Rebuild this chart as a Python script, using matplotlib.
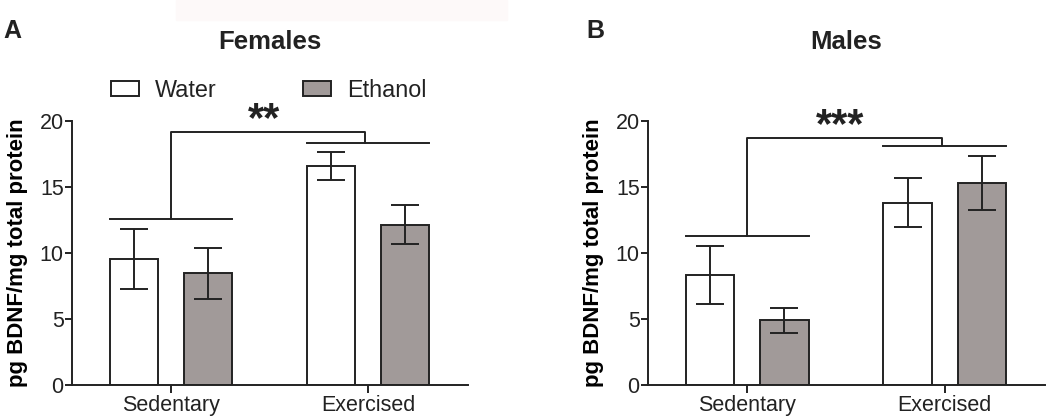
import matplotlib
matplotlib.use("Agg")
import matplotlib.pyplot as plt
from matplotlib.patches import Patch, Rectangle
import numpy as np

plt.rcParams["font.family"] = ["Liberation Sans", "DejaVu Sans"]

groups = ["Sedentary", "Exercised"]
series = ["Water", "Ethanol"]
colors = ["white", "#a19a99"]

fem_mean = {"Water": [9.55, 16.6], "Ethanol": [8.45, 12.15]}
fem_sem = {"Water": [2.25, 1.05], "Ethanol": [1.9, 1.45]}
male_mean = {"Water": [8.3, 13.8], "Ethanol": [4.9, 15.3]}
male_sem = {"Water": [2.2, 1.85], "Ethanol": [0.95, 2.05]}

# significance brackets: (stars, sedentary line, exercised line, top line)
fem_sig = ("**", 12.6, 18.3, 19.15)
male_sig = ("***", 11.3, 18.1, 18.7)

fig = plt.figure(figsize=(10.5, 4.2), dpi=100)
fig.patches.append(Rectangle((176/1050, 1 - 20/420), 331/1050, 20/420,
                             transform=fig.transFigure, color="#fdf9f9", zorder=0))

lw = 1.4
w, off = 0.245, 0.188


def panel(rect, title, letter, means, sems, sig, legend):
    ax = fig.add_axes(rect)
    x = np.arange(len(groups))
    for i, s in enumerate(series):
        ax.bar(x + (2*i - 1)*off, means[s], w, color=colors[i], edgecolor="#222222",
               linewidth=lw, zorder=2)
        ax.errorbar(x + (2*i - 1)*off, means[s], yerr=sems[s], fmt="none",
                    ecolor="#222222", elinewidth=lw, capsize=10.4, capthick=lw, zorder=3)
    ax.set_xlim(-0.503, 1.508)
    ax.set_ylim(0, 20)
    ax.set_yticks([0, 5, 10, 15, 20])
    ax.set_xticks(x)
    ax.set_xticklabels(groups)
    ax.tick_params(axis="both", labelsize=15.5, width=lw, length=5, color="#222222",
                   labelcolor="#222222")
    ax.tick_params(axis="x", length=6, pad=1)
    ax.tick_params(axis="y", pad=1)
    for sp in ["top", "right"]:
        ax.spines[sp].set_visible(False)
    for sp in ["left", "bottom"]:
        ax.spines[sp].set_linewidth(lw)
        ax.spines[sp].set_color("#222222")
    ax.set_ylabel("pg BDNF/mg total protein", fontsize=16, fontweight="bold", labelpad=8)

    stars, ysed, yex, ytop = sig
    kw = dict(color="#222222", lw=lw, clip_on=False, zorder=4)
    ax.plot([-off - w/2, off + w/2], [ysed, ysed], **kw)
    ax.plot([1 - off - w/2, 1 + off + w/2], [yex, yex], **kw)
    ax.plot([0, 0, 0.985, 0.985], [ysed, ytop, ytop, yex], **kw)
    ax.text(0.47, ytop + 0.05, stars, ha="center", va="baseline", fontsize=30,
            fontweight="bold", color="#222222", clip_on=False)

    ax.text(0.5, 1.0 + 79/264, title, transform=ax.transAxes, ha="center", va="center",
            fontsize=18.5, fontweight="bold", color="#222222")
    ax.text(letter[1], 1.0 + 90/264, letter[0], transform=ax.transAxes, ha="left",
            va="center", fontsize=18, fontweight="bold", color="#222222")

    if legend:
        handles = [Patch(facecolor=c, edgecolor="#222222", linewidth=lw) for c in colors]
        ax.legend(handles, series, ncol=2, loc="center left",
                  bbox_to_anchor=(0.098, 1.117), frameon=False, fontsize=16.8,
                  handlelength=1.2, handleheight=0.6, handletextpad=0.69,
                  columnspacing=3.7, borderpad=0, borderaxespad=0,
                  labelcolor="#222222")
    return ax


panel([72/1050, 35/420, 396/1050, 264/420], "Females", ("A", -69/396),
      fem_mean, fem_sem, fem_sig, True)
panel([648/1050, 35/420, 397/1050, 264/420], "Males", ("B", -62/397),
      male_mean, male_sem, male_sig, False)

fig.savefig("out.png", dpi=100)
